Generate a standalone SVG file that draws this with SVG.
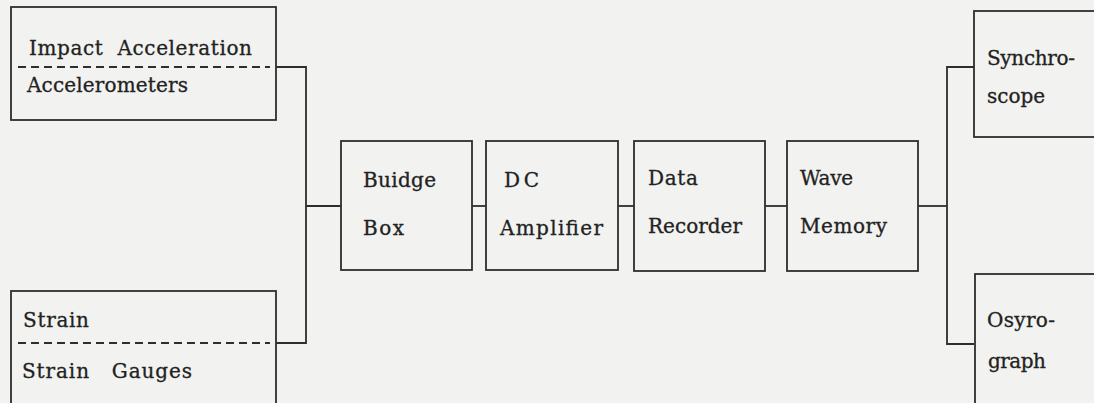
<svg xmlns="http://www.w3.org/2000/svg" width="1094" height="403" viewBox="0 0 1094 403">
<style>
.box{fill:none;stroke:#2e2e2e;stroke-width:1.8}
.dash{stroke:#2e2e2e;stroke-width:1.8;stroke-dasharray:8,5;fill:none}
.conn{fill:none;stroke:#2e2e2e;stroke-width:1.8}
text{font-family:"DejaVu Serif","Liberation Serif",serif;font-size:20px;fill:#222;stroke:#222;stroke-width:0.3}
</style>
<rect width="1094" height="403" fill="#f2f2f0"/>
<g id="connectors">
<polyline class="conn" points="276,67 306,67 306,343 276,343"/>
<line class="conn" x1="306" y1="206" x2="341" y2="206"/>
<line class="conn" x1="472" y1="206" x2="486" y2="206"/>
<line class="conn" x1="618" y1="206" x2="634" y2="206"/>
<line class="conn" x1="765" y1="206" x2="787" y2="206"/>
<line class="conn" x1="918" y1="206" x2="947" y2="206"/>
<polyline class="conn" points="974,67 947,67 947,344 974,344"/>
</g>
<g id="impact">
<rect class="box" x="11" y="7" width="265" height="113"/>
<line class="dash" x1="18" y1="67" x2="270" y2="67"/>
<text x="29" y="55" textLength="223">Impact&#160;&#160;Acceleration</text>
<text x="27" y="92" textLength="161">Accelerometers</text>
</g>
<g id="strain">
<rect class="box" x="11" y="291" width="265" height="130"/>
<line class="dash" x1="18" y1="343" x2="270" y2="343"/>
<text x="23" y="327" textLength="66">Strain</text>
<text x="22" y="378" textLength="170">Strain&#160;&#160;&#160;Gauges</text>
</g>
<g id="bridge">
<rect class="box" x="341" y="141" width="131" height="129"/>
<text x="363" y="187" textLength="73">Buidge</text>
<text x="363" y="235" textLength="41">Box</text>
</g>
<g id="dcamp">
<rect class="box" x="486" y="141" width="132" height="129"/>
<text x="504" y="187" textLength="35">DC</text>
<text x="500" y="235" textLength="103">Amplifier</text>
</g>
<g id="recorder">
<rect class="box" x="634" y="141" width="131" height="130"/>
<text x="648" y="185" textLength="50">Data</text>
<text x="648" y="233" textLength="94">Recorder</text>
</g>
<g id="memory">
<rect class="box" x="787" y="141" width="131" height="130"/>
<text x="800" y="185" textLength="53">Wave</text>
<text x="800" y="233" textLength="87">Memory</text>
</g>
<g id="synchroscope">
<rect class="box" x="974" y="11" width="140" height="126"/>
<text x="987" y="65" textLength="88">Synchro-</text>
<text x="987" y="103" textLength="58">scope</text>
</g>
<g id="osyrograph">
<rect class="box" x="975" y="274" width="140" height="140"/>
<text x="987" y="327" textLength="68">Osyro-</text>
<text x="988" y="368" textLength="58">graph</text>
</g>
</svg>
